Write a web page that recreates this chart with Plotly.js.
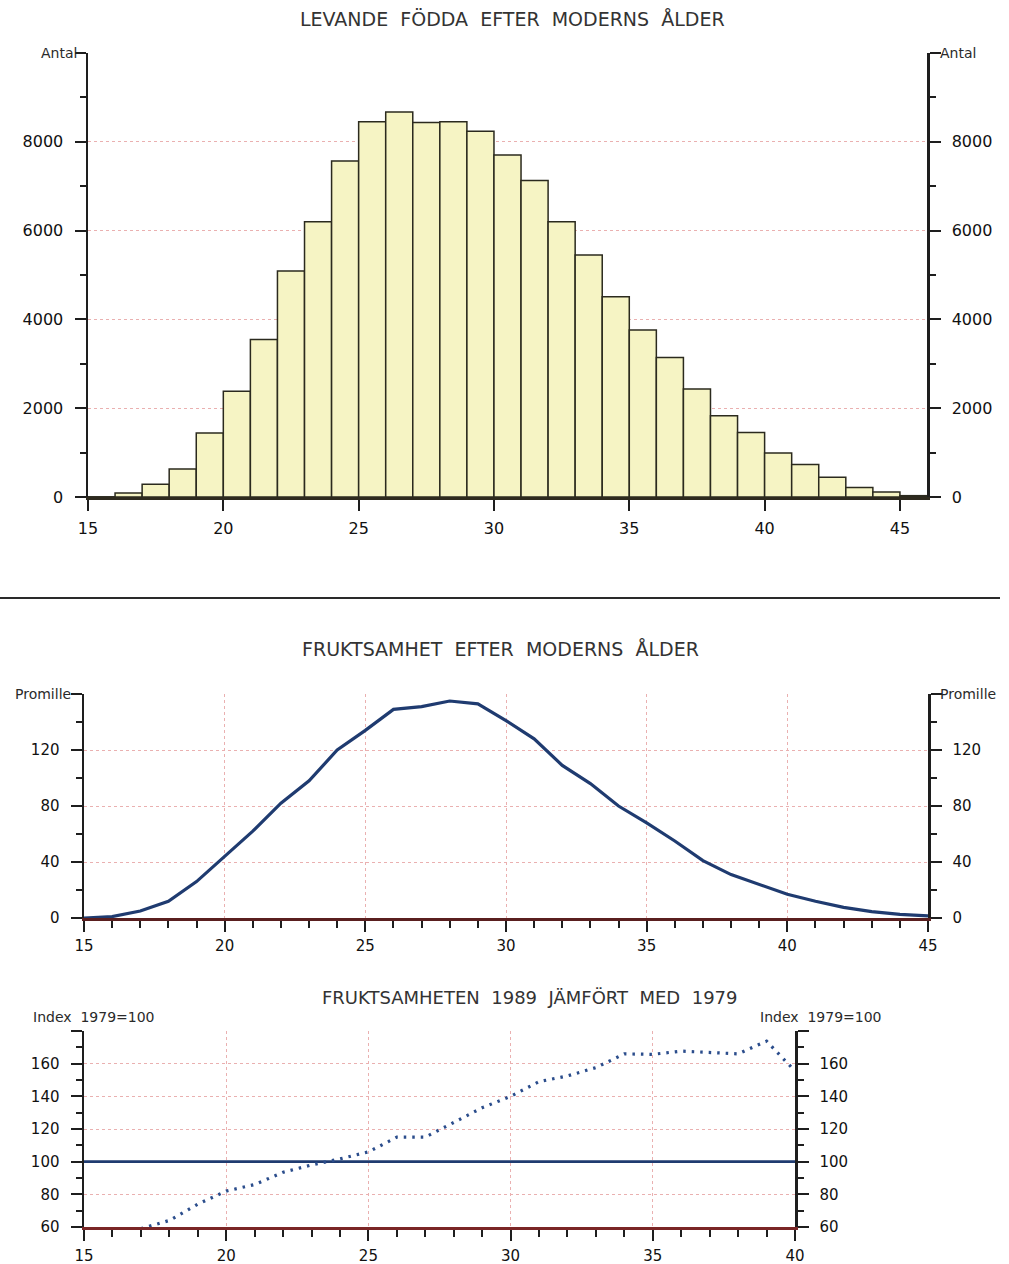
<!DOCTYPE html>
<html>
<head>
<meta charset="utf-8">
<script src="https://cdn.plot.ly/plotly-3.0.1.min.js"></script>
<style>html,body{margin:0;padding:0;background:#fff;}#chart{width:1009px;height:1264px;}</style>
</head>
<body>
<div id="chart"></div>
<script>
// ---- data ----
const ageStart = [15,16,17,18,19,20,21,22,23,24,25,26,27,28,29,30,31,32,33,34,35,36,37,38,39,40,41,42,43,44,45];
const births = [5,90,285,630,1440,2380,3550,5090,6200,7570,8450,8670,8435,8450,8240,7700,7130,6200,5450,4510,3760,3140,2430,1830,1450,990,730,445,215,112,30];

const ages = [15,16,17,18,19,20,21,22,23,24,25,26,27,28,29,30,31,32,33,34,35,36,37,38,39,40,41,42,43,44,45];
const fertility = [0,1,5,12,26,44,62,82,98,120,134,149,151,155,153,141,128,109,96,80,68,55,41,31,24,17,12,7.6,4.5,2.6,1.5];

const agesIdx = [15,16,17,18,19,20,21,22,23,24,25,26,27,28,29,30,31,32,33,34,35,36,37,38,39,40];
const base1979 = [100,100,100,100,100,100,100,100,100,100,100,100,100,100,100,100,100,100,100,100,100,100,100,100,100,100];
const ages1989 = [17,18,19,20,21,22,23,24,25,26,27,28,29,30,31,32,33,34,35,36,37,38,39,40];
const index1989 = [59,64,74,82,86,93.5,98,101.7,106,115,115,124,133,140,149,152.5,157.6,166,165.7,167.7,166.7,166,173.8,155.5];

const xTicksTop = [15,20,25,30,35,40,45];
const yTicksTop = [0,2000,4000,6000,8000,10000];
const yTextTop = ['0','2000','4000','6000','8000',''];
const xTicksMid = [15,20,25,30,35,40,45];
const yTicksMid = [0,40,80,120,160];
const yTextMid = ['0','40','80','120',''];
const xTicksBot = [15,20,25,30,35,40];
const yTicksBot = [60,80,100,120,140,160,180];
const yTextBot = ['60','80','100','120','140','160',''];

// ---- styling helpers ----
const W = 1009, H = 1264;
const px = v => v / W;
const py = v => 1 - v / H;
const FONT = 'DejaVu Sans';
const grid = {gridcolor:'#eab0b0', griddash:'dot', gridwidth:1};
const axDark = '#1e1e1e';

function yAx(domain, range, tv, tt, minorD, fsize, side, overlay, anchor, showgrid) {
  const a = {
    domain: domain, range: range, anchor: anchor, side: side,
    tickmode:'array', tickvals: tv, ticktext: tt,
    ticks:'outside', ticklen:11, tickwidth:2, tickcolor: axDark,
    minor:{dtick:minorD, ticks:'outside', ticklen:6, tickwidth:2, tickcolor:axDark, showgrid:false},
    showline:true, linecolor:axDark, linewidth:2.5,
    zeroline:false, fixedrange:true,
    tickfont:{family:FONT, size:fsize, color:'#111'}, ticklabelstandoff:8
  };
  Object.assign(a, grid);
  a.showgrid = showgrid;
  if (overlay) { a.overlaying = overlay; }
  return a;
}
function xAx(domain, range, tv, minorD, fsize, anchor, showgrid, lineCol, standoff) {
  const a = {
    domain: domain, range: range, anchor: anchor,
    tickmode:'array', tickvals: tv,
    ticks:'outside', ticklen:11, tickwidth:2, tickcolor: axDark,
    showline:true, linecolor:lineCol, linewidth:2.5,
    zeroline:false, fixedrange:true,
    tickfont:{family:FONT, size:fsize, color:'#111'}, ticklabelstandoff:standoff
  };
  Object.assign(a, grid);
  a.showgrid = showgrid;
  if (minorD) a.minor = {dtick:minorD, ticks:'outside', ticklen:7, tickwidth:2, tickcolor:axDark, showgrid:false};
  return a;
}

const hidden = {mode:'lines', line:{width:0, color:'rgba(0,0,0,0)'}, hoverinfo:'skip', showlegend:false};

const traces = [
  {type:'bar', x: ageStart, y: births, offset:0, width:1, xaxis:'x', yaxis:'y',
   marker:{color:'#f6f4c4', line:{color:'#2b2a1e', width:1.5}}, showlegend:false},
  Object.assign({type:'scatter', x: ageStart, y: births, xaxis:'x', yaxis:'y2'}, hidden),

  {type:'scatter', mode:'lines', x: ages, y: fertility, xaxis:'x2', yaxis:'y3',
   line:{color:'#1f3b70', width:3.2}, showlegend:false},
  Object.assign({type:'scatter', x: ages, y: fertility, xaxis:'x2', yaxis:'y4'}, hidden),

  {type:'scatter', mode:'lines', x: agesIdx, y: base1979, xaxis:'x3', yaxis:'y5',
   line:{color:'#1f3b70', width:2.6}, showlegend:false},
  {type:'scatter', mode:'lines', x: ages1989, y: index1989, xaxis:'x3', yaxis:'y5',
   line:{color:'#2b4d8c', width:3.2, dash:'2.5px,6px'}, showlegend:false},
  Object.assign({type:'scatter', x: agesIdx, y: base1979, xaxis:'x3', yaxis:'y6'}, hidden)
];

const ann = (text, x, y, xanchor, size, color) => ({
  text: text, x: px(x), y: py(y), xref:'paper', yref:'paper',
  xanchor: xanchor, yanchor:'middle', showarrow:false,
  font:{family:FONT, size:size, color: color || '#2a2a2a'}
});

const sp = '\u00a0\u00a0';
const layout = {
  width: W, height: H,
  margin:{l:0, r:0, t:0, b:0},
  paper_bgcolor:'#ffffff', plot_bgcolor:'rgba(0,0,0,0)',
  showlegend:false,
  bargap:0,
  xaxis: xAx([px(88), px(927)], [15,46], xTicksTop, null, 16, 'y', false, '#2e2a1e', 4),
  yaxis: yAx([py(497), py(53)], [0,10000], yTicksTop, yTextTop, 1000, 16, 'left', null, 'x', true),
  yaxis2: yAx([py(497), py(53)], [0,10000], yTicksTop, yTextTop, 1000, 16, 'right', 'y', 'x', false),

  xaxis2: xAx([px(84), px(928)], [15,45], xTicksMid, 1, 15, 'y3', true, '#5a1f1f', 1),
  yaxis3: yAx([py(918), py(694)], [0,160], yTicksMid, yTextMid, 20, 15, 'left', null, 'x2', true),
  yaxis4: yAx([py(918), py(694)], [0,160], yTicksMid, yTextMid, 20, 15, 'right', 'y3', 'x2', false),

  xaxis3: xAx([px(84), px(795)], [15,40], xTicksBot, 1, 15, 'y5', true, '#7a2626', 2),
  yaxis5: yAx([py(1227), py(1031)], [60,180], yTicksBot, yTextBot, 10, 15, 'left', null, 'x3', true),
  yaxis6: yAx([py(1227), py(1031)], [60,180], yTicksBot, yTextBot, 10, 15, 'right', 'y5', 'x3', false),

  annotations: [
    ann('LEVANDE'+sp+'FÖDDA'+sp+'EFTER'+sp+'MODERNS'+sp+'ÅLDER', 512, 19, 'center', 19, '#333'),
    ann('Antal', 79, 53, 'right', 14),
    ann('Antal', 938, 53, 'left', 14),
    ann('FRUKTSAMHET'+sp+'EFTER'+sp+'MODERNS'+sp+'ÅLDER', 500, 649, 'center', 19, '#333'),
    ann('Promille', 73, 694, 'right', 14),
    ann('Promille', 938, 694, 'left', 14),
    ann('FRUKTSAMHETEN'+sp+'1989'+sp+'JÄMFÖRT'+sp+'MED'+sp+'1979', 530, 997, 'center', 18, '#333'),
    ann('Index'+sp+'1979=100', 94, 1017, 'center', 14),
    ann('Index'+sp+'1979=100', 821, 1017, 'center', 14)
  ],
  shapes: [
    {type:'line', xref:'paper', yref:'paper', x0:0, x1:px(1000), y0:py(598), y1:py(598),
     line:{color:'#2a2a2a', width:2}}
  ]
};

Plotly.newPlot('chart', traces, layout, {staticPlot:true, displayModeBar:false});
</script>
</body>
</html>
